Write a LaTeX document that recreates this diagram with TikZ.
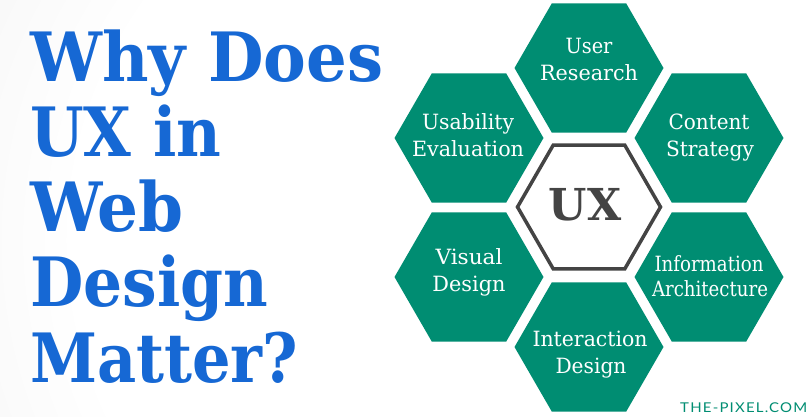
\documentclass[tikz,border=0pt]{standalone}
\usepackage{fontspec}
\usepackage{graphicx}
\usetikzlibrary{shapes.geometric}
\newfontfamily\titlefont{DejaVu Serif}
\newfontfamily\hexfont{DejaVu Serif}
\newfontfamily\sitefont{Lato}[LetterSpace=8]
\definecolor{uxteal}{RGB}{0,141,114}
\definecolor{uxgray}{RGB}{68,68,68}
\definecolor{uxblue}{RGB}{22,104,212}
\pgfdeclareradialshading{bgshade}{\pgfpoint{0bp}{0bp}}{color(0bp)=(white); color(18bp)=(white); color(50bp)=(black!13)}
\newcommand\mytitleline[5]{%
  \node[titleshadow] (#1s) at (#2+1.3,#3+1.3) {\resizebox{#4pt}{\height}{#5}};
  \node[titletext] (#1) at (#2,#3) {\resizebox{#4pt}{\height}{#5}};}
\newcommand\myhexline[5]{%
  \node[hexline] (#1) at (#2,#3) {\resizebox{#4pt}{\height}{#5}};}
\begin{document}
\begin{tikzpicture}[x=1pt,y=-1pt,
  hexa/.style={regular polygon, regular polygon sides=6, minimum size=149pt, inner sep=0pt, outer sep=0pt, fill=uxteal, draw=none},
  hexcenter/.style={regular polygon, regular polygon sides=6, minimum size=143pt, inner sep=0pt, fill=white, draw=uxgray, line width=3.5pt},
  hexline/.style={anchor=base, inner sep=0pt, text=white, font=\hexfont\fontsize{21}{24}\selectfont},
  titletext/.style={anchor=base west, inner sep=0pt, text=uxblue, font=\titlefont\bfseries\fontsize{68}{70}\selectfont},
  titleshadow/.style={titletext, text=white},
  uxtext/.style={anchor=base, inner sep=0pt, text=uxgray, font=\titlefont\bfseries\fontsize{44}{46}\selectfont},
  site/.style={anchor=base west, inner sep=0pt, text=uxteal, font=\sitefont\fontsize{13.5}{14}\selectfont}]
\useasboundingbox (0,0) rectangle (812,417);
\begin{scope}
  \clip (0,0) rectangle (812,417);
  \shade[shading=bgshade] (480,240) circle (560);
\end{scope}
% title
\mytitleline{t1}{30}{82}{353}{Why Does}
\mytitleline{t2}{30}{157}{191}{UX in}
\mytitleline{t3}{30}{232}{153}{Web}
\mytitleline{t4}{30}{306}{238}{Design}
\mytitleline{t5}{30}{382}{268}{Matter?}
% hexagons
\node[hexa] (ur) at (589,68) {};
\node[hexa] (ue) at (469,138) {};
\node[hexa] (cs) at (709,138) {};
\node[hexa] (vd) at (469,277) {};
\node[hexa] (ia) at (709,277) {};
\node[hexa] (id) at (589,347) {};
\node[hexcenter] (ux) at (589,207) {};
% labels
\myhexline{ur1}{589}{54}{47}{User}
\myhexline{ur2}{589}{81}{98}{Research}
\myhexline{ue1}{468}{130}{92}{Usability}
\myhexline{ue2}{468}{157}{112}{Evaluation}
\myhexline{cs1}{709}{130}{81}{Content}
\myhexline{cs2}{710}{157}{88}{Strategy}
\myhexline{vd1}{469}{264}{67}{Visual}
\myhexline{vd2}{469}{291}{73}{Design}
\myhexline{ia1}{709}{272}{109}{Information}
\myhexline{ia2}{710}{296}{116}{Architecture}
\myhexline{id1}{590}{346}{115}{Interaction}
\myhexline{id2}{591}{373}{71}{Design}
\node[uxtext] (uxl) at (585,221) {UX};
\node[site] (web) at (680,412) {\resizebox{127pt}{\height}{THE-PIXEL.COM}};
\end{tikzpicture}
\end{document}
